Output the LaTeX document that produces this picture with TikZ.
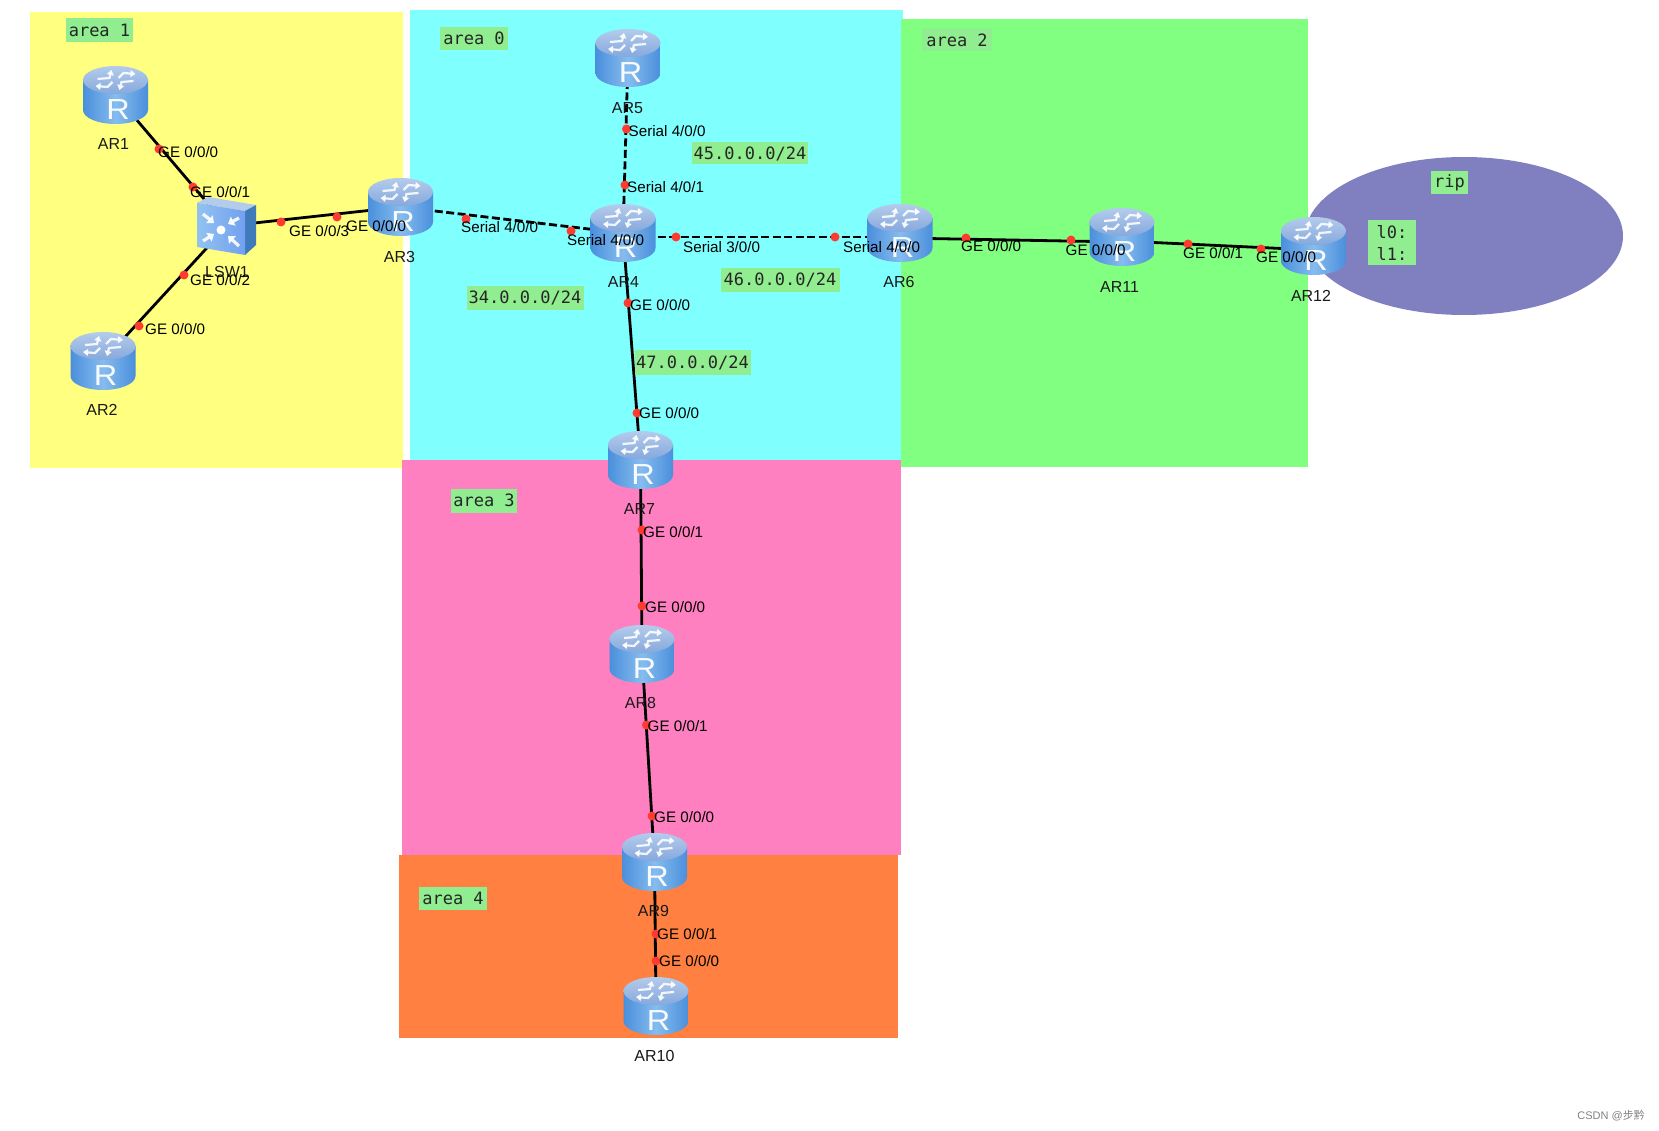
\documentclass[tikz,border=0pt]{standalone}
\usepackage{fontspec}
\setmainfont{Liberation Sans}
\newfontfamily\monof{DejaVu Sans Mono}
\newfontfamily\cjkf{Noto Sans CJK SC}
\usetikzlibrary{arrows.meta,shapes.geometric}
\definecolor{yel}{HTML}{FFFF80}
\definecolor{cya}{HTML}{80FFFF}
\definecolor{gre}{HTML}{80FF80}
\definecolor{pin}{HTML}{FF80C0}
\definecolor{ora}{HTML}{FF8040}
\definecolor{pur}{HTML}{8080C0}
\definecolor{lab}{HTML}{90EE90}
\definecolor{dotc}{HTML}{FF3B30}
\definecolor{bodyA}{HTML}{4A8FDC}
\definecolor{bodyB}{HTML}{86BCEE}
\definecolor{topA}{HTML}{86A8DC}
\definecolor{topB}{HTML}{B4CCEC}
\tikzset{
  hub/.style={inner sep=0pt,minimum width=64pt,minimum height=58pt,rectangle},
  solidlink/.style={line width=2.8pt,black},
  dashlink/.style={line width=2.8pt,black,dash pattern=on 8pt off 3.5pt},
  reddot/.style={circle,fill=dotc,inner sep=0pt,minimum size=9pt},
  port/.style={anchor=west,inner sep=0pt,font=\fontsize{15.2}{17}\selectfont,text=black},
  devname/.style={inner sep=0pt,font=\fontsize{16}{18}\selectfont,text=black!90},
  tag/.style={fill=lab,inner sep=0pt,font=\monof\fontsize{17}{22}\selectfont,text=black!85},
  arw/.style={white,opacity=.88,line width=2.2pt,-{Triangle[length=5pt,width=7pt]}},
  swarw/.style={white,opacity=.9,line width=3.2pt,-{Triangle[length=6pt,width=10pt]}}
}
\begin{document}
\begin{tikzpicture}[x=1pt,y=-1pt]
\useasboundingbox (0,0) rectangle (1659,1131);
% areas
\path[fill=yel] (29.5,12.5) rectangle (403,468);
\path[fill=cya] (409.5,10.5) rectangle (902.5,460);
\path[fill=gre] (900.5,19) rectangle (1308,466.5);
\path[fill=pin] (402,460) rectangle (900.5,855);
\path[fill=ora] (399,855) rectangle (898,1038);
\node[ellipse,fill=pur,inner sep=0pt,minimum width=318pt,minimum height=158pt] (ripzone) at (1464,236) {};
% devices
\node[hub] (AR1) at (115.5,95) {};
\node[hub] (AR2) at (103,361) {};
\node[hub] (AR3) at (400.5,207) {};
\node[hub] (AR4) at (623,233) {};
\node[hub] (AR5) at (628,58) {};
\node[hub] (AR6) at (900,233) {};
\node[hub] (AR7) at (640.5,460) {};
\node[hub] (AR8) at (642,654) {};
\node[hub] (AR9) at (654.5,862) {};
\node[hub] (AR10) at (656,1006) {};
\node[hub] (AR11) at (1122,237) {};
\node[hub] (AR12) at (1313.5,246) {};
\node[hub] (LSW1) at (227,226) {};
% connectors
\draw[solidlink] (AR1.center) -- (LSW1.center);
\draw[solidlink] (AR2.center) -- (LSW1.center);
\draw[solidlink] (LSW1.center) -- (AR3.center);
\draw[dashlink] (AR3.center) -- (AR4.center);
\draw[dashlink] (AR5.center) -- (AR4.center);
\draw[dashlink] ([yshift=-4pt]AR4.center) -- ([yshift=-4pt]AR6.center);
\draw[solidlink] (AR4.center) -- (AR7.center);
\draw[solidlink] ([yshift=-5pt]AR6.center) -- ([yshift=-5pt]AR11.center);
\draw[solidlink] ([yshift=-4pt]AR11.center) -- ([yshift=-4pt]AR12.center);
\draw[solidlink] (AR7.center) -- (AR8.center);
\draw[solidlink] (AR8.center) -- (AR9.center);
\draw[solidlink] (AR9.center) -- (AR10.center);
% port dots
\foreach \i/\x/\y in {1/159/149,2/193/187,3/281/222,4/337/217,5/184/275,6/139/326,7/466/219,8/571/231,9/626.5/129,10/625/185,11/676/237,12/835/237,13/628/303,14/637/413,15/966/238,16/1071/240,17/1188/244,18/1261/249,19/642/530,20/642/606,21/646.5/725,22/652/816,23/656/934,24/656/961}
  \node[reddot] (dot\i) at (\x,\y) {};
% router icons
\foreach \n in {AR1,AR2,AR3,AR4,AR5,AR6,AR7,AR8,AR9,AR10,AR11,AR12}{
\begin{scope}[shift={(\n.center)}]
  \shade[left color=bodyA,right color=bodyA,middle color=bodyB]
    (-32.5,-15) -- (-32.5,15) arc[start angle=180,end angle=360,x radius=32.5pt,y radius=14pt] -- (32.5,-15) -- cycle;
  \shade[top color=topB,bottom color=topA] (0,-15) ellipse[x radius=32.5pt,y radius=14pt];
  \begin{scope}[shift={(0,-15)}]
    \draw[arw] (3,-2) -- (8,-7) -- (20,-6);
    \draw[arw] (-3,2) -- (-8,7) -- (-20,6);
    \draw[arw] (-18,-1) -- (-6,-2) -- (-4,-10);
    \draw[arw] (18,1) -- (6,2) -- (4,10);
  \end{scope}
  \node[inner sep=0pt,white,opacity=.95,font=\fontsize{29}{29}\selectfont,xscale=1.12] (\n icon) at (2.5,15) {R};
\end{scope}}
% switch icon
\begin{scope}[shift={(LSW1.center)}]
  \path[fill=topB] (-30,-23) -- (-19,-29) -- (29,-21) -- (18,-15) -- cycle;
  \path[fill=bodyA!85!black] (18,-15) -- (29,-21) -- (29,19) -- (18,29) -- cycle;
  \shade[left color=bodyB!90!white,right color=bodyB!85!blue] (-30,-23) -- (18,-15) -- (18,29) -- (-30,21) -- cycle;
  \begin{scope}[shift={(-6,3)}]
    \draw[swarw] (-18,-15) -- (-7,-6);
    \draw[swarw] (18,-11) -- (7,-5);
    \draw[swarw] (-18,12) -- (-7,5);
    \draw[swarw] (18,17) -- (7,7);
    \fill[white] (0,1) circle[radius=4.5pt];
  \end{scope}
\end{scope}
% device names
\node[devname] (nAR1) at (113.5,144) {AR1};
\node[devname] (nAR2) at (102,409.5) {AR2};
\node[devname] (nAR3) at (399.5,257) {AR3};
\node[devname] (nAR4) at (623.5,282) {AR4};
\node[devname] (nAR5) at (627.5,108) {AR5};
\node[devname] (nAR6) at (899,282) {AR6};
\node[devname] (nAR7) at (639.5,509) {AR7};
\node[devname] (nAR8) at (640.5,702.5) {AR8};
\node[devname] (nAR9) at (653.5,911) {AR9};
\node[devname] (nAR10) at (654.5,1056) {AR10};
\node[devname] (nAR11) at (1119.5,287) {AR11};
\node[devname] (nAR12) at (1311,296) {AR12};
\node[devname] (nLSW1) at (227,272) {LSW1};
% port labels
\node[port] (p1) at (158,152) {GE 0/0/0};
\node[port] (p2) at (190,192) {GE 0/0/1};
\node[port] (p3) at (289,231) {GE 0/0/3};
\node[port] (p4) at (346,226) {GE 0/0/0};
\node[port] (p5) at (190,280) {GE 0/0/2};
\node[port] (p6) at (145,329) {GE 0/0/0};
\node[port] (p7) at (628.5,131) {Serial 4/0/0};
\node[port] (p8) at (627,187) {Serial 4/0/1};
\node[port] (p9) at (461,227.5) {Serial 4/0/0};
\node[port] (p10) at (567,240) {Serial 4/0/0};
\node[port] (p11) at (683,247) {Serial 3/0/0};
\node[port] (p12) at (843,247) {Serial 4/0/0};
\node[port] (p13) at (630,305.5) {GE 0/0/0};
\node[port] (p14) at (639,413) {GE 0/0/0};
\node[port] (p15) at (643,532) {GE 0/0/1};
\node[port] (p16) at (645,607) {GE 0/0/0};
\node[port] (p17) at (647.5,726) {GE 0/0/1};
\node[port] (p18) at (654,817) {GE 0/0/0};
\node[port] (p19) at (657,934) {GE 0/0/1};
\node[port] (p20) at (659,961) {GE 0/0/0};
\node[port] (p21) at (961,246.5) {GE 0/0/0};
\node[port] (p22) at (1065.5,250) {GE 0/0/0};
\node[port] (p23) at (1183,253) {GE 0/0/1};
\node[port] (p24) at (1256,257) {GE 0/0/0};
% tags
\node[tag,minimum width=67pt,minimum height=24pt] (t1) at (99.5,30.5) {area 1};
\node[tag,minimum width=68pt,minimum height=23.5pt] (t0) at (474,38.5) {area 0};
\node[tag,minimum width=70pt,minimum height=23pt] (t2) at (957,40) {area 2};
\node[tag,minimum width=66pt,minimum height=24pt] (t3) at (484,500.5) {area 3};
\node[tag,minimum width=68pt,minimum height=23pt] (t4) at (453,898) {area 4};
\node[tag,minimum width=37pt,minimum height=23pt] (trip) at (1449.5,183) {rip};
\node[tag,minimum width=48pt,minimum height=45pt,align=left,anchor=center] (tlo) at (1392,243) {l0:\\l1:};
\node[tag,minimum width=116pt,minimum height=22pt] (n45) at (750,153.5) {45.0.0.0/24};
\node[tag,minimum width=119pt,minimum height=24pt] (n46) at (780,280) {46.0.0.0/24};
\node[tag,minimum width=117pt,minimum height=24pt] (n34) at (525,298) {34.0.0.0/24};
\node[tag,minimum width=116pt,minimum height=24pt] (n47) at (692.5,362.5) {47.0.0.0/24};
% watermark
\node[anchor=east,inner sep=0pt,text=black!50,font=\fontsize{11}{13}\selectfont] (wm) at (1645,1116) {CSDN @{\cjkf 步黔}};
\end{tikzpicture}
\end{document}
